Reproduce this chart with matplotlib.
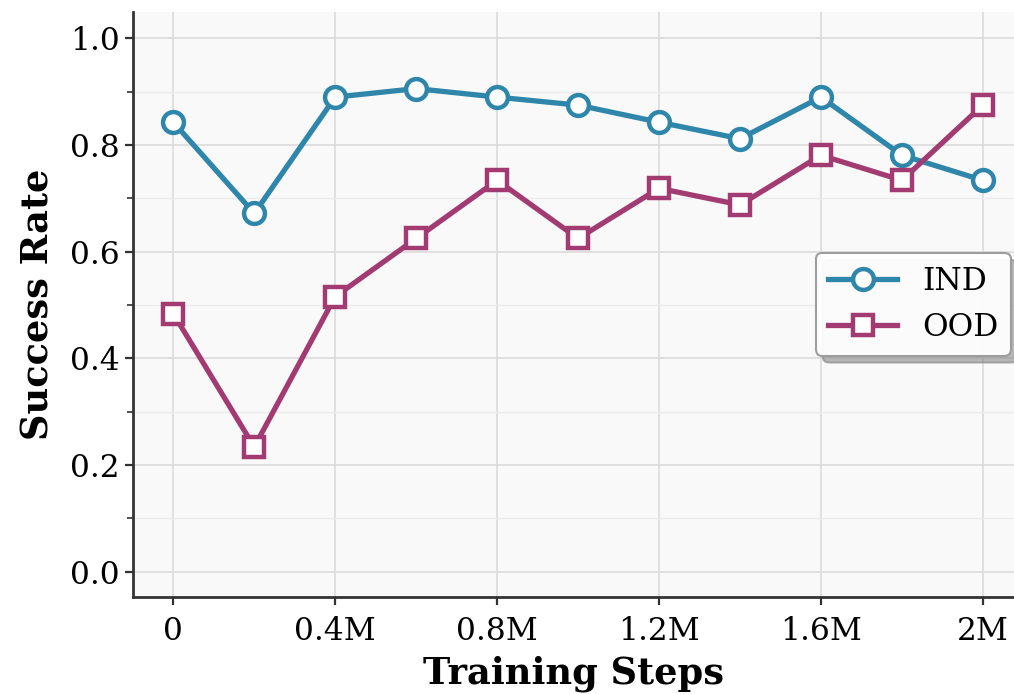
import matplotlib
matplotlib.use('Agg')
import matplotlib.pyplot as plt
import numpy as np

steps = [0, 0.2, 0.4, 0.6, 0.8, 1.0, 1.2, 1.4, 1.6, 1.8, 2.0]
ind = [0.843, 0.672, 0.890, 0.906, 0.890, 0.875, 0.843, 0.812, 0.890, 0.781, 0.734]
ood = [0.484, 0.234, 0.516, 0.625, 0.734, 0.625, 0.719, 0.688, 0.781, 0.734, 0.875]
xticks = [0, 0.4, 0.8, 1.2, 1.6, 2.0]
xtick_labels = ['0', '0.4M', '0.8M', '1.2M', '1.6M', '2M']

plt.rcParams['font.family'] = 'DejaVu Serif'

fig = plt.figure(figsize=(10.14, 6.94), dpi=100)
ax = fig.add_axes([0.131, 0.14, 0.869, 0.843])
ax.set_facecolor('#f9f9f9')

ax.plot(steps, ind, color='#2E86AB', lw=3.8, marker='o', ms=15,
        mfc='white', mec='#2E86AB', mew=3.2, label='IND', zorder=3)
ax.plot(steps, ood, color='#A23B72', lw=3.8, marker='s', ms=15,
        mfc='white', mec='#A23B72', mew=3.2, label='OOD', zorder=3)

ax.set_xlim(-0.1, 2.077)
ax.set_ylim(-0.047, 1.05)
ax.set_xticks(xticks)
ax.set_xticklabels(xtick_labels)
ax.set_yticks([0, 0.2, 0.4, 0.6, 0.8, 1.0])
ax.set_yticks(np.arange(0.1, 1.0, 0.2), minor=True)
ax.grid(True, which='major', color='#dcdcdc', lw=1.2)
ax.grid(True, which='minor', axis='y', color='#ececec', lw=1.0)
ax.set_axisbelow(True)

for s in ['top', 'right']:
    ax.spines[s].set_visible(False)
for s in ['left', 'bottom']:
    ax.spines[s].set_color('#333333')
    ax.spines[s].set_linewidth(2)
ax.tick_params(which='major', labelsize=22.5, length=6, width=1.6, color='#333333')
ax.tick_params(axis='x', which='major', pad=8)
ax.tick_params(which='minor', length=4, width=1.2, color='#333333')

ax.set_xlabel('Training Steps', fontsize=26.5, fontweight='bold', labelpad=6)
ax.set_ylabel('Success Rate', fontsize=26.5, fontweight='bold', labelpad=10)

leg = ax.legend(loc='center right', fontsize=22.5, frameon=True, fancybox=True,
                shadow={'ox': 5, 'oy': -5, 'color': '#777777'},
                framealpha=0.95, edgecolor='#999999',
                bbox_to_anchor=(1.014, 0.5), handlelength=2.2)
leg.get_frame().set_linewidth(1.5)

fig.savefig('out.png', dpi=100)
